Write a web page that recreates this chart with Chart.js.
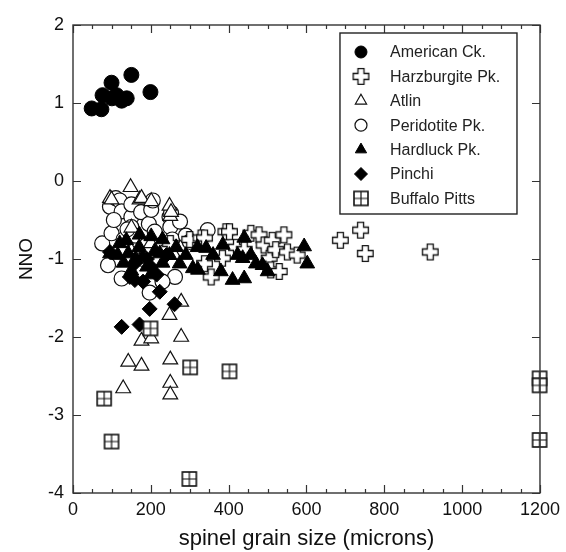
<!DOCTYPE html>
<html>
<head>
<meta charset="utf-8">
<script src="https://cdn.jsdelivr.net/npm/chart.js@4/dist/chart.umd.min.js"></script>
<style>
  html, body { margin: 0; padding: 0; background: #fff; }
  #wrap { width: 566px; height: 552px; }
</style>
</head>
<body>
<div id="wrap"><canvas id="nno-chart"></canvas></div>
<script>
'use strict';

// series data (x = spinel grain size, y = NNO)
var americanX = [48, 73, 76, 99, 100, 112, 125, 138, 150, 199];
var americanY = [0.93, 0.92, 1.10, 1.26, 1.06, 1.10, 1.03, 1.06, 1.36, 1.14];

var harzburgiteX = [250, 300, 329, 338, 338, 355, 384, 393, 402, 420, 440, 457, 478, 491, 504, 508, 512, 521, 530, 542, 551, 576, 687, 739, 751, 918];
var harzburgiteY = [-0.80, -0.75, -0.73, -0.73, -1.06, -1.23, -0.99, -0.65, -0.65, -0.85, -0.88, -0.67, -0.69, -0.82, -0.99, -1.14, -0.76, -0.88, -1.16, -0.69, -0.91, -0.95, -0.76, -0.63, -0.93, -0.91];

var atlinX = [95, 99, 148, 150, 171, 176, 201, 200, 248, 250, 252, 150, 260, 278, 248, 142, 176, 129, 176, 201, 278, 250, 250, 250];
var atlinY = [-0.22, -0.24, -0.08, -0.90, -0.24, -0.22, -0.26, -0.80, -0.32, -0.45, -0.40, -0.60, -0.95, -1.55, -1.72, -2.32, -2.37, -2.66, -2.05, -2.02, -2.00, -2.29, -2.59, -2.74];

var peridotiteX = [75, 90, 95, 99, 110, 120, 125, 125, 130, 150, 150, 150, 160, 175, 195, 197, 201, 205, 210, 248, 250, 252, 255, 262, 275, 290, 300, 346, 230, 180, 240, 105, 140];
var peridotiteY = [-0.80, -1.08, -0.33, -0.67, -0.22, -0.25, -0.39, -1.25, -0.75, -0.46, -0.59, -0.30, -0.70, -0.40, -0.55, -1.43, -0.37, -0.25, -0.65, -0.46, -0.59, -0.41, -0.75, -1.23, -0.52, -0.70, -0.78, -0.63, -1.29, -1.00, -0.90, -0.50, -0.62];

var hardluckX = [95, 115, 120, 130, 137, 142, 150, 160, 170, 171, 179, 190, 200, 201, 210, 223, 230, 230, 248, 265, 274, 290, 308, 321, 320, 342, 360, 380, 385, 410, 423, 436, 440, 440, 457, 470, 487, 500, 594, 602];
var hardluckY = [-0.93, -0.95, -0.80, -1.05, -0.76, -0.93, -1.15, -1.00, -0.85, -0.69, -0.97, -1.10, -1.20, -0.71, -0.90, -0.93, -0.75, -1.05, -0.95, -0.85, -1.06, -0.95, -1.12, -1.14, -0.85, -0.86, -0.95, -1.16, -0.82, -1.27, -0.95, -0.99, -1.25, -0.73, -0.95, -1.06, -1.08, -1.16, -0.84, -1.06];

var pinchiX = [95, 125, 146, 159, 160, 171, 180, 190, 197, 200, 215, 223, 240, 261];
var pinchiY = [-0.91, -1.87, -1.23, -1.27, -1.05, -1.84, -1.29, -1.00, -1.64, -1.10, -1.20, -1.42, -0.95, -1.58];

var buffaloX = [80, 99, 199, 301, 402, 299, 1199, 1199, 1199];
var buffaloY = [-2.79, -3.34, -1.89, -2.39, -2.44, -3.82, -2.53, -2.62, -3.32];

var xTicks = [0, 200, 400, 600, 800, 1000, 1200];
var yTicks = [-4, -3, -2, -1, 0, 1, 2];

var FONT = "'Liberation Sans', Arial, Helvetica, sans-serif";

function toPoints(xs, ys) {
    return xs.map(function (x, i) { return { x: x, y: ys[i] }; });
}

// open "plus" symbol
function makeOpenCross() {
    var c = document.createElement('canvas');
    c.width = 19; c.height = 19;
    var g = c.getContext('2d');
    var m = 9.5, a = 3, L = 7.8;
    g.beginPath();
    g.moveTo(m - a, m - L); g.lineTo(m + a, m - L); g.lineTo(m + a, m - a);
    g.lineTo(m + L, m - a); g.lineTo(m + L, m + a); g.lineTo(m + a, m + a);
    g.lineTo(m + a, m + L); g.lineTo(m - a, m + L); g.lineTo(m - a, m + a);
    g.lineTo(m - L, m + a); g.lineTo(m - L, m - a); g.lineTo(m - a, m - a);
    g.closePath();
    g.fillStyle = '#fff';
    g.fill();
    g.lineWidth = 1.3;
    g.strokeStyle = '#111';
    g.stroke();
    return c;
}

// square with a cross inside
function makeBoxCross() {
    var c = document.createElement('canvas');
    c.width = 18; c.height = 18;
    var g = c.getContext('2d');
    g.fillStyle = '#fff';
    g.fillRect(2, 2, 14, 14);
    g.strokeStyle = '#111';
    g.lineWidth = 1.6;
    g.strokeRect(2, 2, 14, 14);
    g.lineWidth = 1.2;
    g.beginPath();
    g.moveTo(9, 2); g.lineTo(9, 16);
    g.moveTo(2, 9); g.lineTo(16, 9);
    g.stroke();
    return c;
}

var crossImg = makeOpenCross();
var boxImg = makeBoxCross();

var datasets = [
    { label: 'American Ck.', data: toPoints(americanX, americanY), pointStyle: 'circle', pointRadius: 7.5, backgroundColor: '#000', borderColor: '#000', borderWidth: 1, order: 0, legendRadius: 6 },
    { label: 'Harzburgite Pk.', data: toPoints(harzburgiteX, harzburgiteY), pointStyle: crossImg, pointRadius: 8, backgroundColor: '#fff', borderColor: '#111', borderWidth: 1, order: 4, legendRadius: 8 },
    { label: 'Atlin', data: toPoints(atlinX, atlinY), pointStyle: 'triangle', pointRadius: 8.5, backgroundColor: '#fff', borderColor: '#111', borderWidth: 1.2, order: 5, legendRadius: 6.5 },
    { label: 'Peridotite Pk.', data: toPoints(peridotiteX, peridotiteY), pointStyle: 'circle', pointRadius: 7.5, backgroundColor: '#fff', borderColor: '#111', borderWidth: 1.2, order: 6, legendRadius: 6 },
    { label: 'Hardluck Pk.', data: toPoints(hardluckX, hardluckY), pointStyle: 'triangle', pointRadius: 8.5, backgroundColor: '#000', borderColor: '#000', borderWidth: 1, order: 3, legendRadius: 6.5 },
    { label: 'Pinchi', data: toPoints(pinchiX, pinchiY), pointStyle: 'rectRot', pointRadius: 7.5, backgroundColor: '#000', borderColor: '#000', borderWidth: 1, order: 2, legendRadius: 6.5 },
    { label: 'Buffalo Pitts', data: toPoints(buffaloX, buffaloY), pointStyle: boxImg, pointRadius: 8, backgroundColor: '#fff', borderColor: '#111', borderWidth: 1, order: 1, legendRadius: 8 }
];
datasets.forEach(function (d) {
    d.pointHoverRadius = d.pointRadius;
    d.showLine = false;
    d.clip = false;
});

// frame, inward ticks and boxed legend
var framePlugin = {
    id: 'frame',
    afterDatasetsDraw: function (chart) {
        var ctx = chart.ctx;
        var a = chart.chartArea;
        var xs = chart.scales.x, ys = chart.scales.y;
        ctx.save();
        ctx.strokeStyle = '#333';
        ctx.lineWidth = 1.4;
        ctx.strokeRect(a.left, a.top, a.right - a.left, a.bottom - a.top);

        ctx.lineWidth = 1.2;
        ctx.beginPath();
        for (var v = 0; v <= 1200; v += 50) {
            var px = Math.round(xs.getPixelForValue(v)) + 0.5;
            var len = (v % 200 === 0) ? 8 : 4;
            ctx.moveTo(px, a.bottom); ctx.lineTo(px, a.bottom - len);
            ctx.moveTo(px, a.top); ctx.lineTo(px, a.top + len);
        }
        yTicks.forEach(function (t) {
            var py = Math.round(ys.getPixelForValue(t)) + 0.5;
            ctx.moveTo(a.left, py); ctx.lineTo(a.left + 8, py);
            ctx.moveTo(a.right, py); ctx.lineTo(a.right - 8, py);
        });
        ctx.stroke();

        // legend box
        var bx = a.right - 200, by = a.top + 8, bw = 177, bh = 181;
        ctx.fillStyle = '#fff';
        ctx.fillRect(bx, by, bw, bh);
        ctx.strokeStyle = '#222';
        ctx.lineWidth = 1.4;
        ctx.strokeRect(bx, by, bw, bh);
        ctx.font = '16px ' + FONT;
        ctx.textBaseline = 'middle';
        ctx.textAlign = 'left';
        chart.data.datasets.forEach(function (d, i) {
            var cy = by + 19 + i * 24.4;
            var cx = bx + 21;
            ctx.fillStyle = d.backgroundColor;
            ctx.strokeStyle = d.borderColor;
            ctx.lineWidth = d.borderWidth;
            Chart.helpers.drawPoint(ctx, { pointStyle: d.pointStyle, radius: d.legendRadius, rotation: 0, borderWidth: d.borderWidth }, cx, cy);
            ctx.fillStyle = '#222';
            ctx.fillText(d.label, bx + 50, cy + 1);
        });
        ctx.restore();
    }
};

var ctx = document.getElementById('nno-chart');
var nnoChart = new Chart(ctx, {
    type: 'scatter',
    data: { datasets: datasets },
    options: {
        responsive: true,
        maintainAspectRatio: false,
        animation: false,
        layout: { padding: { left: 0, right: 22, top: 25, bottom: 0 } },
        plugins: {
            legend: { display: false },
            tooltip: { enabled: false }
        },
        scales: {
            x: {
                type: 'linear',
                min: 0,
                max: 1200,
                afterFit: function (scale) { scale.height = 59; },
                afterBuildTicks: function (scale) {
                    scale.ticks = xTicks.map(function (v) { return { value: v }; });
                },
                grid: { display: false, drawTicks: false },
                border: { display: false },
                ticks: {
                    padding: 6,
                    maxRotation: 0,
                    color: '#111',
                    font: { family: FONT, size: 18 },
                    callback: function (v) { return String(v); }
                },
                title: {
                    display: true,
                    text: 'spinel grain size (microns)',
                    color: '#111',
                    font: { family: FONT, size: 22 },
                    padding: { top: 0, bottom: 0 }
                }
            },
            y: {
                type: 'linear',
                min: -4,
                max: 2,
                afterFit: function (scale) { scale.width = 73; },
                afterBuildTicks: function (scale) {
                    scale.ticks = yTicks.map(function (v) { return { value: v }; });
                },
                grid: { display: false, drawTicks: false },
                border: { display: false },
                ticks: {
                    padding: 9,
                    color: '#111',
                    font: { family: FONT, size: 18 },
                    callback: function (v) { return String(v); }
                },
                title: {
                    display: true,
                    text: 'NNO',
                    color: '#111',
                    font: { family: FONT, size: 19 },
                    padding: { top: 15, bottom: 0 }
                }
            }
        }
    },
    plugins: [framePlugin]
});
</script>
</body>
</html>
